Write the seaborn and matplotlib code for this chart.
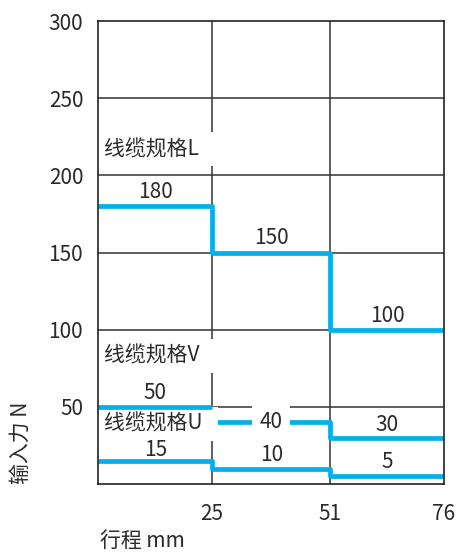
import numpy as np
import pandas as pd
import matplotlib
matplotlib.use("Agg")
import matplotlib.pyplot as plt
import seaborn as sns

# stroke break points (mm) and force per cable size (N)
stroke = [0, 25, 51, 76]
force_L = [180, 150, 100]
force_V = [50, 40, 30]
force_U = [15, 10, 5]
y_ticks = [50, 100, 150, 200, 250, 300]
x_ticks = [25, 51, 76]

LINE_COLOR = "#00b0ec"
GRID_COLOR = "#333333"
TEXT_COLOR = "#2a2a2a"

sns.set_theme(style="white")
plt.rcParams["font.family"] = ["Noto Sans CJK SC", "DejaVu Sans"]


def step_frame(x, values):
    """Repeat the last value so steps-post reaches the right edge."""
    return pd.DataFrame({"stroke": x, "force": list(values) + [values[-1]]})


fig = plt.figure(figsize=(4.57, 5.56), dpi=100)
ax = fig.add_axes([0.2155, 0.1295, 0.756, 0.8327])

# grid lines
for x in x_ticks[:-1]:
    ax.axvline(x, color=GRID_COLOR, lw=1.1, zorder=1)
for y in y_ticks[:-1]:
    ax.axhline(y, color=GRID_COLOR, lw=1.1, zorder=1)

line_kw = dict(drawstyle="steps-post", color=LINE_COLOR, lw=3.4, solid_capstyle="butt")
sns.lineplot(data=step_frame(stroke, force_L), x="stroke", y="force", ax=ax, zorder=2, **line_kw)
sns.lineplot(data=step_frame(stroke, force_U), x="stroke", y="force", ax=ax, zorder=2, **line_kw)
# cable V: the first step sits above the "U" label box, the rest goes under it
sns.lineplot(data=step_frame(stroke[:2], force_V[:1]), x="stroke", y="force", ax=ax, zorder=4, **line_kw)
sns.lineplot(data=step_frame(stroke[1:], force_V[1:]), x="stroke", y="force", ax=ax, zorder=2, **line_kw)

# value labels above each step
mids = [(stroke[i] + stroke[i + 1]) / 2 for i in range(3)]
label_fs = 15
for values, offsets in ((force_L, [9, 9.4, 9]), (force_V, [8.7, 0, 8]), (force_U, [7, 8.8, 9])):
    for m, v, off in zip(mids, values, offsets):
        kw = {}
        if off == 0:
            kw["bbox"] = dict(boxstyle="square,pad=0.35", fc="white", ec="none")
        ax.text(m, v + off, str(v), ha="center", va="center",
                fontsize=label_fs, color=TEXT_COLOR, zorder=5, **kw)

box = dict(boxstyle="square,pad=0.3", fc="white", ec="none")
for name, y in (("线缆规格L", 217), ("线缆规格V", 83), ("线缆规格U", 39)):
    ax.text(1.3, y, name + "  ", ha="left", va="center", fontsize=15,
            color=TEXT_COLOR, bbox=box, zorder=3)

ax.set_xlim(0, 76)
ax.set_ylim(0, 300)
ax.set_xticks(x_ticks)
ax.set_yticks(y_ticks)
ax.tick_params(length=0, labelsize=15, colors=TEXT_COLOR)
ax.tick_params(axis="y", pad=11)
ax.tick_params(axis="x", pad=14)
ax.set_xlabel("")
ax.set_ylabel("")
for s in ax.spines.values():
    s.set_color("#222222")
    s.set_linewidth(1.2)
    s.set_zorder(6)

fig.text(0.219, 0.028, "行程 mm", fontsize=15, color=TEXT_COLOR, ha="left", va="center")
fig.text(0.046, 0.203, "输入力 N", fontsize=15, color=TEXT_COLOR, ha="center",
         va="center", rotation=90)

fig.savefig("out.png", dpi=100)
